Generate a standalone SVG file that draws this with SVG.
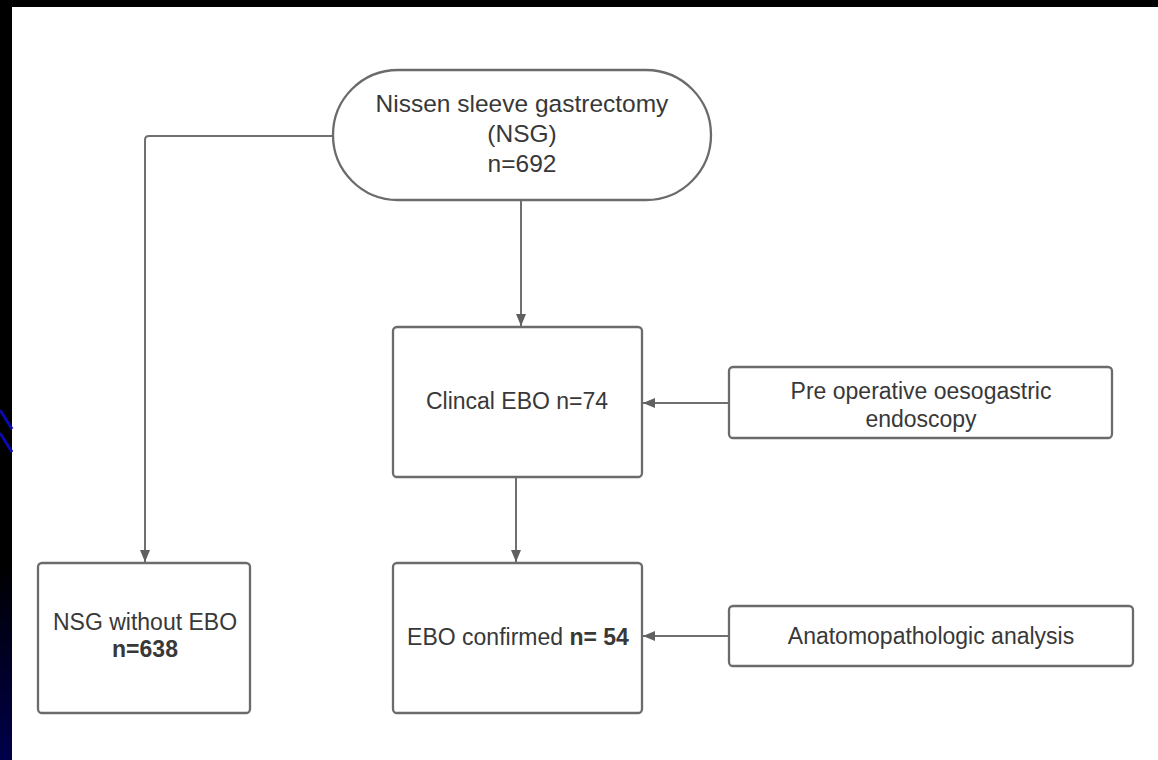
<svg xmlns="http://www.w3.org/2000/svg" width="1158" height="760" viewBox="0 0 1158 760">
  <defs>
    <linearGradient id="strip" x1="0" y1="0" x2="0" y2="1">
      <stop offset="0" stop-color="#000000"/>
      <stop offset="0.74" stop-color="#000000"/>
      <stop offset="1" stop-color="#00004a"/>
    </linearGradient>
    <marker id="arr" viewBox="0 0 12 10" refX="12" refY="5" markerWidth="12" markerHeight="10" markerUnits="userSpaceOnUse" orient="auto">
      <path d="M0,0 L12,5 L0,10 Z" fill="#606060"/>
    </marker>
    <style>
      .node { fill: #ffffff; stroke: #6b6b6b; stroke-width: 2.3; }
      .lbl { font-family: "Liberation Sans", Arial, sans-serif; font-size: 23px; fill: #383838; text-anchor: middle; }
      .big { font-size: 24.5px; }
      .b { font-weight: bold; }
      .conn { fill: none; stroke: #707070; stroke-width: 2; marker-end: url(#arr); }
    </style>
  </defs>

  <g id="background">
    <rect x="0" y="0" width="1158" height="760" fill="#ffffff"/>
    <rect x="0" y="0" width="1158" height="7" fill="#000000"/>
    <rect x="0" y="0" width="12" height="760" fill="url(#strip)"/>
    <line x1="0" y1="410" x2="12" y2="429" stroke="#0a0ab0" stroke-width="3"/>
    <line x1="0" y1="433" x2="12" y2="452" stroke="#0a0ab0" stroke-width="3"/>
  </g>

  <g id="connectors">
    <path class="conn" d="M333,136 H149 Q145,136 145,140 V562"/>
    <path class="conn" d="M521,200 V326"/>
    <path class="conn" d="M516,477 V562"/>
    <path class="conn" d="M729,403 H643"/>
    <path class="conn" d="M729,636 H643"/>
  </g>

  <g id="nsg">
    <rect class="node" x="333" y="70" width="378" height="130" rx="65" ry="65"/>
    <text class="lbl big" x="522" y="112">Nissen sleeve gastrectomy</text>
    <text class="lbl big" x="522" y="142">(NSG)</text>
    <text class="lbl big" x="522" y="172">n=692</text>
  </g>

  <g id="nsg-without-ebo">
    <rect class="node" x="38" y="563" width="212" height="150" rx="4" ry="4"/>
    <text class="lbl" x="145" y="630">NSG without EBO</text>
    <text class="lbl b" x="145" y="657">n=638</text>
  </g>

  <g id="clinical-ebo">
    <rect class="node" x="393" y="327" width="249" height="150" rx="4" ry="4"/>
    <text class="lbl" x="517" y="409">Clincal EBO n=74</text>
  </g>

  <g id="ebo-confirmed">
    <rect class="node" x="393" y="563" width="249" height="150" rx="4" ry="4"/>
    <text class="lbl" x="518" y="645">EBO confirmed <tspan class="b">n= 54</tspan></text>
  </g>

  <g id="preop-endoscopy">
    <rect class="node" x="729" y="367" width="383" height="71" rx="4" ry="4"/>
    <text class="lbl" x="921" y="399">Pre operative oesogastric</text>
    <text class="lbl" x="921" y="427">endoscopy</text>
  </g>

  <g id="anatomopathologic">
    <rect class="node" x="729" y="606" width="404" height="60" rx="4" ry="4"/>
    <text class="lbl" x="931" y="644">Anatomopathologic analysis</text>
  </g>
</svg>
